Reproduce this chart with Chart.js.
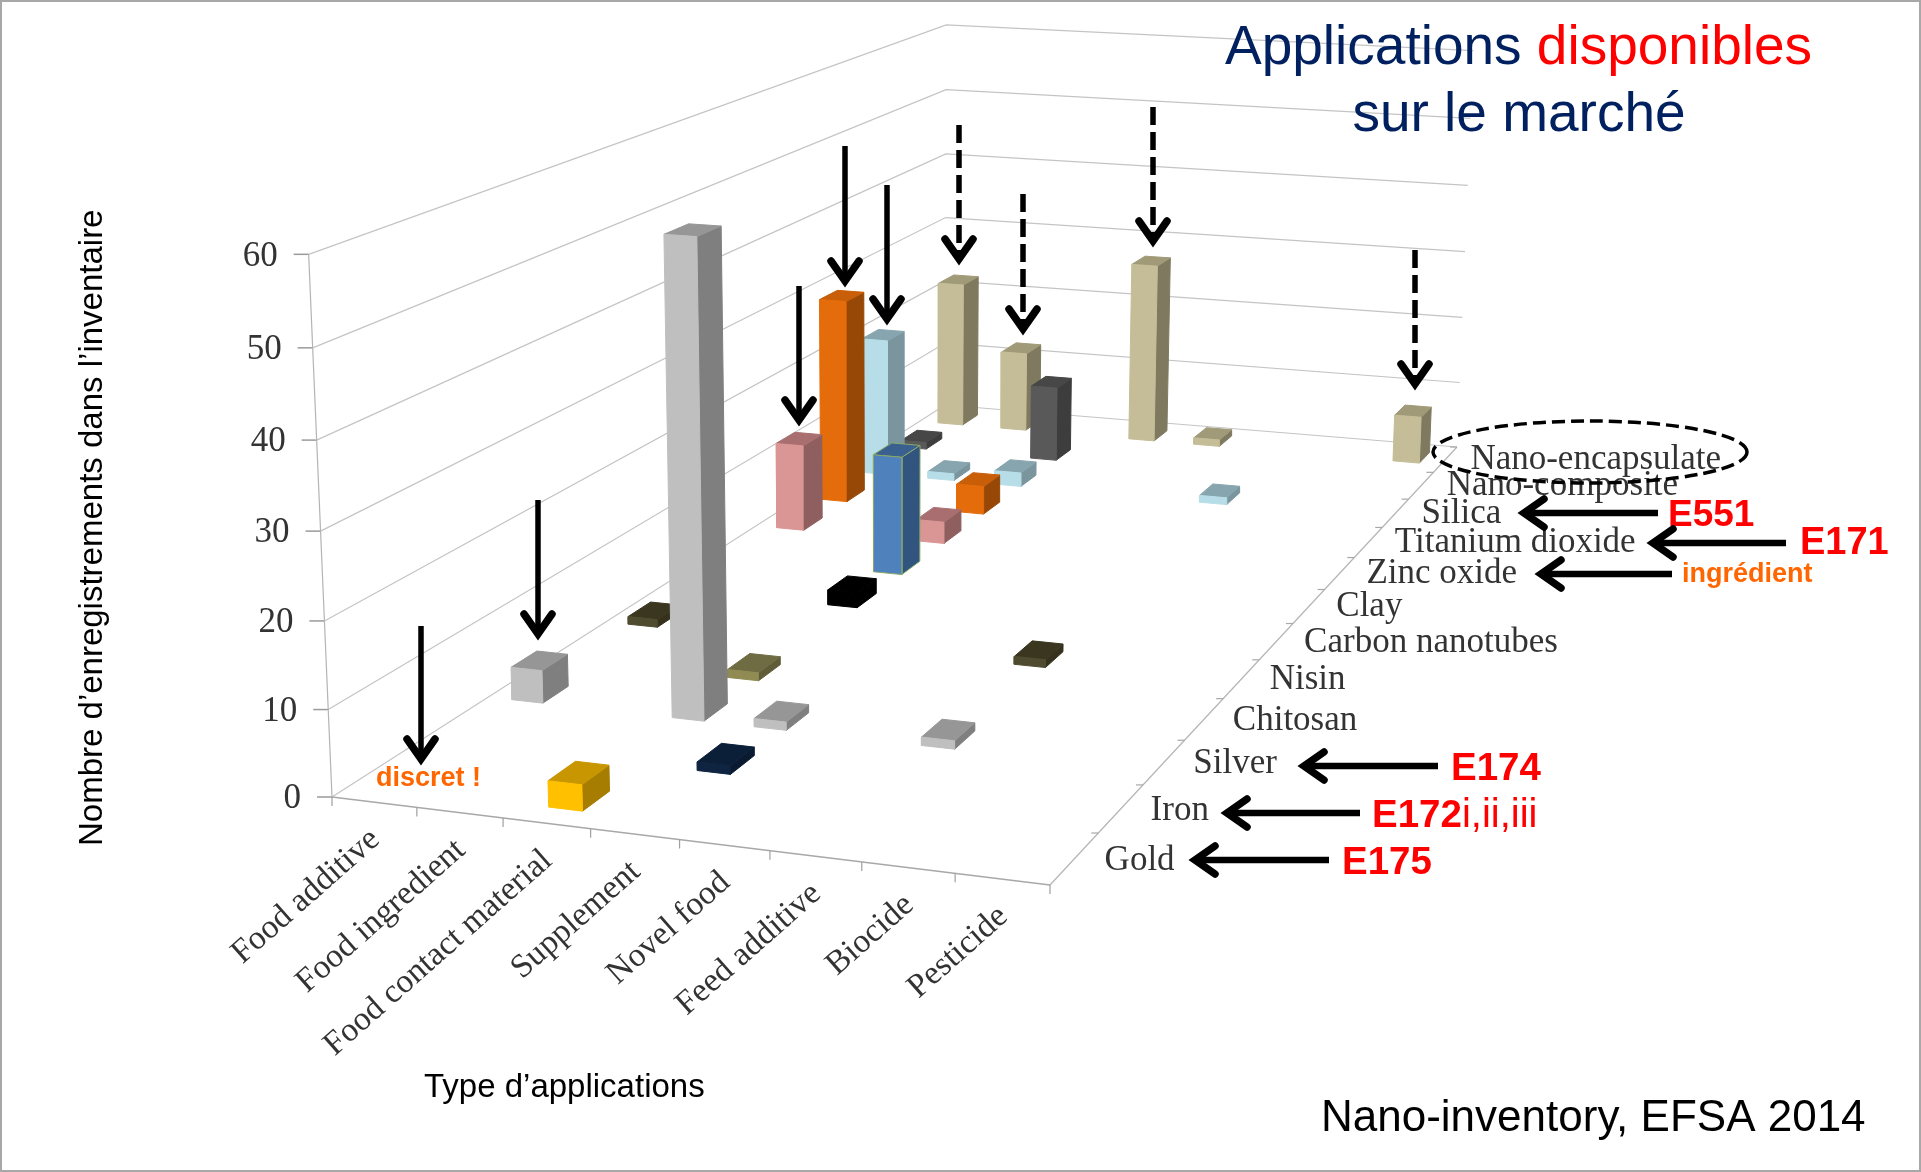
<!DOCTYPE html>
<html lang="fr">
<head>
<meta charset="utf-8">
<title>Nano-inventory, EFSA 2014</title>
<script src="https://cdn.jsdelivr.net/npm/chart.js@4/dist/chart.umd.min.js"></script>
<style>
    html, body { margin: 0; padding: 0; background: #fff; }
    canvas { display: block; }
</style>
</head>
<body>
<canvas id="inventoryChart" width="1921" height="1172"></canvas>
<script>
// Categories along the two floor axes
const applications = ["Food additive", "Food ingredient", "Food contact material", "Supplement", "Novel food", "Feed additive", "Biocide", "Pesticide"];
const materials = ["Gold", "Iron", "Silver", "Chitosan", "Nisin", "Carbon nanotubes", "Clay", "Zinc oxide", "Titanium dioxide", "Silica", "Nano-composite", "Nano-encapsulate"];
const valueTicks = [0, 10, 20, 30, 40, 50, 60];

// Number of records per application, one list per material
const goldCounts = [0, 0, 3, 0, 0, 0, 0, 0];
const ironCounts = [0, 0, 0, 1, 0, 0, 0, 0];
const silverCounts = [4, 0, 57, 1, 0, 1, 0, 0];
const chitosanCounts = [0, 0, 1, 0, 0, 0, 0, 0];
const nisinCounts = [1, 0, 0, 0, 0, 1, 0, 0];
const carbonCounts = [0, 0, 2, 0, 0, 0, 0, 0];
const clayCounts = [0, 0, 16, 0, 0, 0, 0, 0];
const zincCounts = [12, 0, 3, 0, 0, 0, 0, 0];
const titaniumCounts = [29, 0, 4, 0, 0, 0, 0, 0];
const silicaCounts = [20, 1, 2, 0, 0, 1, 0, 0];
const compositeCounts = [1, 0, 11, 0, 0, 0, 0, 0];
const encapsulateCounts = [22, 12, 0, 27, 1, 0, 0, 7];

const countsByMaterial = [goldCounts, ironCounts, silverCounts, chitosanCounts, nisinCounts, carbonCounts,
    clayCounts, zincCounts, titaniumCounts, silicaCounts, compositeCounts, encapsulateCounts];

// Face colours per material: front, top, side
const materialColors = [
    ["#ffc000", "#c89600", "#a67d00"],
    ["#0e2440", "#0c1f38", "#0a1a30"],
    ["#bfbfbf", "#969696", "#7f7f7f"],
    ["#8f8b52", "#6f6b42", "#605c38"],
    ["#4f4b30", "#3a3620", "#35311c"],
    ["#000000", "#000000", "#000000"],
    ["#4f81bd", "#3a6090", "#31557f"],
    ["#d99694", "#a96f70", "#8f5f60"],
    ["#e46c0a", "#c85e08", "#974806"],
    ["#b7dee8", "#87a5ae", "#7a959d"],
    ["#595959", "#474747", "#3d3d3d"],
    ["#c4bd97", "#a09a78", "#7f7a5f"]
];

/* ==========================
   3D PROJECTION
========================== */

// Floor corners in plot units, the homography is solved from them
const FLOOR = { fl: [332, 797], fr: [1050, 885], br: [1457, 447], bl: [945, 405] };
const VANISH = { x: 900, y: 14000, k: -0.000658 };
const BAR_WIDTH = 0.39;
const BAR_DEPTH = 0.42;
const BAR_SHIFT = -0.005;

const floorMap = (function () {
    const { fl, fr, br, bl } = FLOOR;
    const dx1 = fr[0] - br[0], dy1 = fr[1] - br[1];
    const dx2 = bl[0] - br[0], dy2 = bl[1] - br[1];
    const sx = fl[0] - fr[0] + br[0] - bl[0], sy = fl[1] - fr[1] + br[1] - bl[1];
    const det = dx1 * dy2 - dx2 * dy1;
    const g = (sx * dy2 - dx2 * sy) / det;
    const h = (dx1 * sy - sx * dy1) / det;
    return {
        g, h,
        a: fr[0] * (1 + g) - fl[0], b: bl[0] * (1 + h) - fl[0],
        d: fr[1] * (1 + g) - fl[1], e: bl[1] * (1 + h) - fl[1]
    };
})();

// appPos and matPos are in category units, value in records
function project(appPos, matPos, value) {
    const u = appPos / applications.length;
    const s = matPos / materials.length;
    const m = floorMap;
    const w = 1 + m.g * u + m.h * s + VANISH.k * value;
    return {
        x: (m.a * u + m.b * s + FLOOR.fl[0] + VANISH.k * value * VANISH.x) / w,
        y: (m.d * u + m.e * s + FLOOR.fl[1] + VANISH.k * value * VANISH.y) / w
    };
}

/* ==========================
   DATASETS
========================== */

const datasets = [];

function addLine(points, color, width) {
    datasets.push({
        data: points, showLine: true, fill: false, pointRadius: 0,
        borderColor: color, borderWidth: width, tension: 0
    });
}

function addFace(points, color, edge) {
    datasets.push({
        data: points.concat([points[0]]), showLine: true, fill: "shape", pointRadius: 0,
        backgroundColor: color, borderColor: edge || color, borderWidth: 1, tension: 0
    });
}

function addBar(appIndex, matIndex, value) {
    const a0 = appIndex + 0.5 + BAR_SHIFT - BAR_WIDTH / 2, a1 = a0 + BAR_WIDTH;
    const m0 = matIndex + 0.5 - BAR_DEPTH / 2, m1 = m0 + BAR_DEPTH;
    const colors = materialColors[matIndex];
    // the clay bars have a thin green outline
    const edge = materials[matIndex] === "Clay" ? "#8aa86a" : null;
    addFace([project(a1, m0, 0), project(a1, m1, 0), project(a1, m1, value), project(a1, m0, value)], colors[2], edge);
    addFace([project(a0, m0, value), project(a1, m0, value), project(a1, m1, value), project(a0, m1, value)], colors[1], edge);
    addFace([project(a0, m0, 0), project(a1, m0, 0), project(a1, m0, value), project(a0, m0, value)], colors[0], edge);
}

// Walls: each value line runs along the left wall then the back wall
const nApps = applications.length, nMats = materials.length;
valueTicks.forEach(v => {
    addLine([project(0, 0, v), project(0, nMats, v), project(nApps, nMats, v)], "#c4c4c4", 1.2);
    const p = project(0, 0, v);
    addLine([{ x: p.x - 15, y: p.y }, p], "#9a9a9a", 1.5);
});
addLine([project(0, 0, 0), project(0, 0, 60)], "#b4b4b4", 1.2);

// Floor edges with their tick marks
addLine([project(0, 0, 0), project(nApps, 0, 0)], "#a8a8a8", 1.5);
addLine([project(nApps, 0, 0), project(nApps, nMats, 0)], "#b4b4b4", 1.2);
for (let i = 0; i <= nApps; i++) {
    const p = project(i, 0, 0);
    addLine([p, { x: p.x, y: p.y + 9 }], "#a0a0a0", 1.2);
}
for (let j = 1; j <= nMats; j++) {
    const p = project(nApps, j, 0);
    addLine([p, { x: p.x - 7, y: p.y }], "#a8a8a8", 1.2);
}

// Back rows first, then left to right, so nearer bars cover farther ones
for (let j = nMats - 1; j >= 0; j--) {
    for (let i = 0; i < nApps; i++) {
        const value = countsByMaterial[j][i];
        if (value > 0) addBar(i, j, value);
    }
}

// Chart.js paints the lowest order last
datasets.forEach((ds, idx) => { ds.order = -idx; });

/* ==========================
   TEXT AND ANNOTATIONS
========================== */

const SERIF = '"Liberation Serif", serif';
const SANS = '"Liberation Sans", sans-serif';
const AXIS_TEXT = "#333333";

const solidDownArrows = [[421, 626, 765], [538, 500, 640], [799, 286, 426], [845, 146, 287], [887, 185, 325]];
const dashedDownArrows = [[959, 125, 265], [1023, 194, 335], [1153, 107, 247], [1415, 250, 390]];
const leftArrows = [[1518, 1658, 513], [1647, 1786, 543], [1535, 1672, 574], [1298, 1438, 766], [1221, 1360, 813], [1189, 1329, 860]];
const additiveLabels = [["E551", 1668, 526, 37], ["E171", 1800, 554, 38], ["E174", 1451, 780, 38.5], ["E172", 1372, 827, 38.5], ["E175", 1342, 874, 38.5]];

function drawArrowHead(ctx, tipX, tipY, dirX, dirY) {
    const len = 26, spread = 14;
    ctx.save();
    ctx.lineWidth = 7.5;
    ctx.lineJoin = "miter";
    ctx.lineCap = "round";
    ctx.setLineDash([]);
    ctx.beginPath();
    ctx.moveTo(tipX - dirX * len - dirY * spread, tipY - dirY * len - dirX * spread);
    ctx.lineTo(tipX - dirX * 6, tipY - dirY * 6);
    ctx.lineTo(tipX - dirX * len + dirY * spread, tipY - dirY * len + dirX * spread);
    ctx.stroke();
    ctx.restore();
}

function drawText(ctx, text, x, y, font, color, align, baseline) {
    ctx.font = font;
    ctx.fillStyle = color;
    ctx.textAlign = align || "left";
    ctx.textBaseline = baseline || "alphabetic";
    ctx.fillText(text, x, y);
}

const slideOverlay = {
    id: "slideOverlay",
    afterDraw(chart) {
        const ctx = chart.ctx;
        const px = chart.scales.x, py = chart.scales.y;
        const X = v => px.getPixelForValue(v), Y = v => py.getPixelForValue(v);
        ctx.save();

        // Value axis labels
        valueTicks.forEach(v => {
            const p = project(0, 0, v);
            drawText(ctx, String(v), X(p.x - 31), Y(p.y + 2), "35px " + SERIF, AXIS_TEXT, "right", "middle");
        });

        // Application labels, read upward from the front edge
        applications.forEach((name, i) => {
            const p = project(i + 0.5, 0, 0);
            ctx.save();
            ctx.translate(X(p.x + 1), Y(p.y + 33));
            ctx.rotate(-41.5 * Math.PI / 180);
            drawText(ctx, name, 0, 0, "33.5px " + SERIF, AXIS_TEXT, "right", "middle");
            ctx.restore();
        });

        // Material labels beside the right floor edge
        materials.forEach((name, j) => {
            const p = project(nApps, j + 0.5, 0);
            const gap = 30 - 5 * j / (nMats - 1);
            const drop = 2 - 2 * j / (nMats - 1);
            drawText(ctx, name, X(p.x + gap), Y(p.y + drop), "35px " + SERIF, AXIS_TEXT, "left", "middle");
        });

        // Axis titles
        ctx.save();
        ctx.translate(X(102), Y(846));
        ctx.rotate(-Math.PI / 2);
        drawText(ctx, "Nombre d\u2019enregistrements dans l\u2019inventaire", 0, 0, "33px " + SANS, "#000");
        ctx.restore();
        drawText(ctx, "Type d\u2019applications", X(424), Y(1097), "33px " + SANS, "#000");

        // Title
        drawText(ctx, "Applications ", X(1225), Y(64), "55px " + SANS, "#002060");
        const titleWidth = ctx.measureText("Applications ").width;
        drawText(ctx, "disponibles", X(1225) + titleWidth, Y(64), "55px " + SANS, "#ff0000");
        drawText(ctx, "sur le march\u00e9", X(1519), Y(131), "55px " + SANS, "#002060", "center");

        // Source
        drawText(ctx, "Nano-inventory, EFSA 2014", X(1321), Y(1131), "44px " + SANS, "#000");

        // Additive codes and remarks
        additiveLabels.forEach(([label, x, y, size]) => {
            drawText(ctx, label, X(x), Y(y), "bold " + size + "px " + SANS, "#ff0000");
            if (label === "E172") {
                const w = ctx.measureText(label).width;
                drawText(ctx, "i,ii,iii", X(x) + w, Y(y), "40px " + SANS, "#ff0000");
            }
        });
        drawText(ctx, "ingr\u00e9dient", X(1682), Y(582), "bold 27px " + SANS, "#ff6600");
        drawText(ctx, "discret !", X(376), Y(786), "bold 27px " + SANS, "#ff6600");

        // Arrows
        ctx.strokeStyle = "#000";
        ctx.lineWidth = 5.5;
        solidDownArrows.forEach(([x, y0, y1]) => {
            ctx.setLineDash([]);
            ctx.lineCap = "butt";
            ctx.beginPath();
            ctx.moveTo(X(x), Y(y0));
            ctx.lineTo(X(x), Y(y1 - 8));
            ctx.stroke();
            drawArrowHead(ctx, X(x), Y(y1), 0, 1);
        });
        dashedDownArrows.forEach(([x, y0, y1]) => {
            ctx.setLineDash([18, 7]);
            ctx.lineCap = "butt";
            ctx.beginPath();
            ctx.moveTo(X(x), Y(y0));
            ctx.lineTo(X(x), Y(y1 - 8));
            ctx.stroke();
            drawArrowHead(ctx, X(x), Y(y1), 0, 1);
        });
        ctx.lineWidth = 6.5;
        leftArrows.forEach(([tip, tail, y]) => {
            ctx.setLineDash([]);
            ctx.lineCap = "butt";
            ctx.beginPath();
            ctx.moveTo(X(tail), Y(y));
            ctx.lineTo(X(tip + 8), Y(y));
            ctx.stroke();
            drawArrowHead(ctx, X(tip), Y(y), -1, 0);
        });

        // Dashed ring around the nano-encapsulate label
        ctx.setLineDash([13, 6]);
        ctx.lineWidth = 3.5;
        ctx.lineCap = "butt";
        ctx.beginPath();
        ctx.ellipse(X(1590), Y(452), 157, 31, 0, 0, Math.PI * 2);
        ctx.stroke();

        // Slide frame
        ctx.setLineDash([]);
        ctx.strokeStyle = "#a8a8a8";
        ctx.lineWidth = 2;
        ctx.strokeRect(1, 1, chart.width - 2, chart.height - 2);

        ctx.restore();
    }
};

/* ==========================
   CHART
========================== */

new Chart(document.getElementById("inventoryChart"), {
    type: "scatter",
    data: { datasets },
    plugins: [slideOverlay],
    options: {
        responsive: false,
        animation: false,
        layout: { padding: 0 },
        plugins: { legend: { display: false }, tooltip: { enabled: false } },
        scales: {
            x: { type: "linear", min: 0, max: 1921, display: false },
            y: { type: "linear", min: 0, max: 1172, reverse: true, display: false }
        }
    }
});
</script>
</body>
</html>
